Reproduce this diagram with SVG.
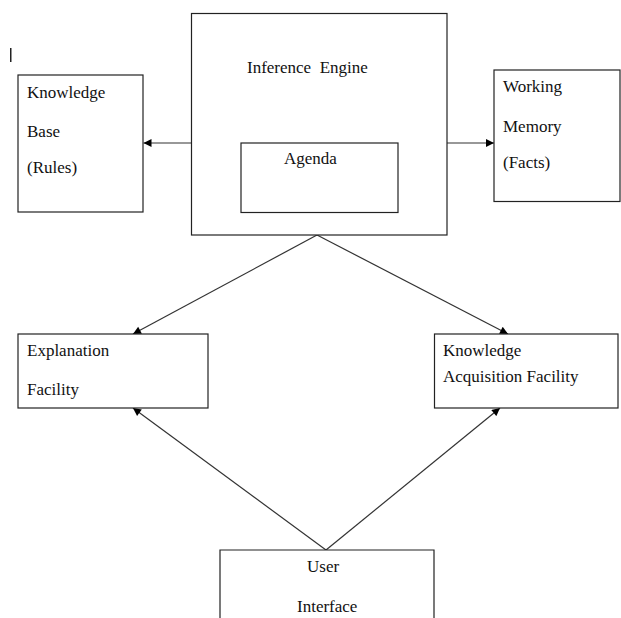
<svg xmlns="http://www.w3.org/2000/svg" width="621" height="618" viewBox="0 0 621 618">
<style>
.box{fill:#fff;stroke:#222;stroke-width:1.2}
.lbl{font-family:"Liberation Serif","Times New Roman",serif;font-size:17px;fill:#111}
.con{stroke:#333;stroke-width:1.2;fill:none}
</style>
<defs>
<marker id="ah" viewBox="0 0 10 10" refX="10" refY="5" markerWidth="9" markerHeight="8" markerUnits="userSpaceOnUse" orient="auto">
<path d="M0,0 L10,5 L0,10 z" fill="#000"/>
</marker>
</defs>
<rect width="621" height="618" fill="#fff"/>
<rect x="10" y="48" width="1.5" height="14" fill="#222"/>
<g id="connectors">
<line class="con" x1="191" y1="143" x2="143.5" y2="143" marker-end="url(#ah)"/>
<line class="con" x1="447" y1="143" x2="494" y2="143" marker-end="url(#ah)"/>
<line class="con" x1="317" y1="235" x2="133" y2="334" marker-end="url(#ah)"/>
<line class="con" x1="317" y1="235" x2="508" y2="334" marker-end="url(#ah)"/>
<line class="con" x1="326" y1="550" x2="133" y2="408" marker-end="url(#ah)"/>
<line class="con" x1="326" y1="550" x2="500" y2="408" marker-end="url(#ah)"/>
</g>
<g id="knowledge-base">
<rect class="box" x="18" y="75" width="125" height="137"/>
<text class="lbl" x="27" y="98">Knowledge</text>
<text class="lbl" x="27" y="137">Base</text>
<text class="lbl" x="27" y="173">(Rules)</text>
</g>
<g id="inference-engine">
<rect class="box" x="191.5" y="13.5" width="255.5" height="221.5"/>
<text class="lbl" x="247" y="73" xml:space="preserve">Inference  Engine</text>
</g>
<g id="agenda">
<rect class="box" x="241" y="143" width="157" height="69.5"/>
<text class="lbl" x="284" y="164">Agenda</text>
</g>
<g id="working-memory">
<rect class="box" x="494" y="70" width="126" height="131.5"/>
<text class="lbl" x="503" y="92">Working</text>
<text class="lbl" x="503" y="132">Memory</text>
<text class="lbl" x="503" y="168">(Facts)</text>
</g>
<g id="explanation-facility">
<rect class="box" x="18" y="334" width="190" height="74"/>
<text class="lbl" x="27" y="356">Explanation</text>
<text class="lbl" x="27" y="395">Facility</text>
</g>
<g id="knowledge-acquisition-facility">
<rect class="box" x="434.5" y="334" width="183.5" height="74"/>
<text class="lbl" x="443" y="356">Knowledge</text>
<text class="lbl" x="443" y="382">Acquisition Facility</text>
</g>
<g id="user-interface">
<path class="box" d="M220,618 V550 H434 V618"/>
<text class="lbl" x="307" y="572">User</text>
<text class="lbl" x="297" y="612">Interface</text>
</g>
</svg>
